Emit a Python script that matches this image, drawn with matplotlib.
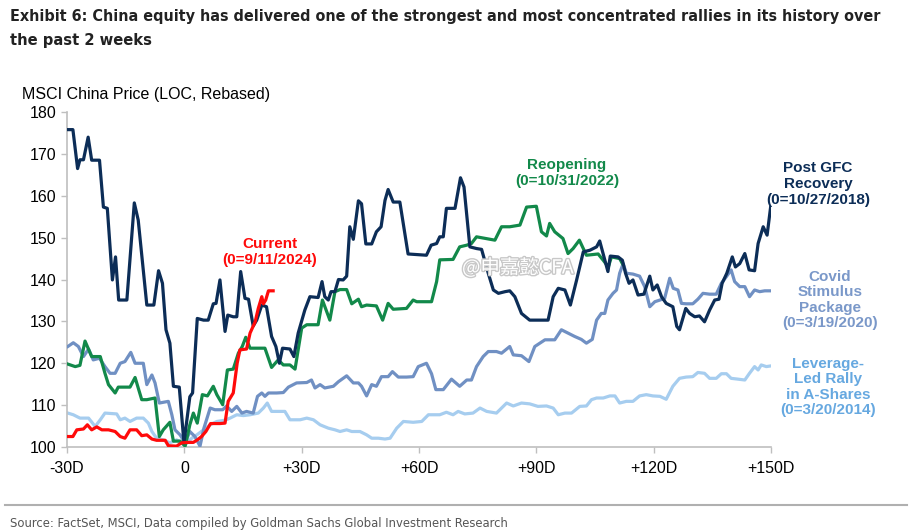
import matplotlib
matplotlib.use("Agg")
import matplotlib.pyplot as plt
import matplotlib.patheffects as pe
from matplotlib import font_manager

# ── DATA (x = trading days from the start date) ──
gfc_days = [-29.8, -28.5, -27.3, -26.7, -25.8, -24.6, -23.7, -21.7, -20.7, -19.7, -18.4, -17.6, -16.8,
            -14.7, -12.8, -11.8, -9.6, -7.8, -6.6, -5.6, -4.7, -3.7, -2.8, -1.3, -0.1, 1.4, 2.1, 3.3,
            4.9, 6.1, 7.4, 8.1, 9.1, 10.4, 11.1, 12.5, 13.4, 14.4, 15.5, 16.4, 17.6, 18.5, 19.8, 21.0,
            22.3, 23.4, 24.3, 25.1, 27.0, 28.0, 29.1, 30.8, 32.1, 34.2, 35.2, 35.9, 36.8, 37.5, 38.5,
            39.4, 40.6, 41.5, 42.3, 43.2, 44.5, 45.3, 46.4, 47.9, 49.1, 50.3, 51.3, 52.1, 53.4, 55.1,
            57.2, 61.9, 63.1, 64.5, 65.3, 66.2, 67.0, 69.2, 70.6, 71.5, 73.0, 74.7, 76.0, 77.7, 79.0,
            80.3, 82.0, 83.2, 84.5, 86.2, 88.3, 90.0, 93.0, 94.3, 95.6, 97.3, 98.7, 100.3, 102.0,
            103.7, 105.4, 106.2, 107.3, 108.3, 108.9, 110.9, 112.0, 112.8, 113.7, 114.7, 116.0,
            117.5, 119.0, 119.8, 120.9, 122.0, 123.2, 124.9, 125.9, 126.6, 128.2, 129.2, 130.5,
            131.7, 133.0, 134.3, 135.6, 136.7, 137.5, 138.7, 140.1, 140.9, 142.0, 143.3, 144.4,
            145.8, 146.7, 148.0, 149.0, 149.9]
gfc_vals = [175.8, 175.8, 166.5, 168.6, 168.6, 174.0, 168.5, 168.5, 157.3, 157.0, 139.9, 145.4, 135.1,
            135.1, 158.3, 154.2, 133.9, 133.9, 142.1, 139.1, 128.0, 124.8, 114.5, 114.3, 101.0, 112.0,
            112.9, 130.7, 130.3, 130.3, 134.2, 134.3, 139.9, 127.6, 131.5, 131.1, 131.1, 141.9, 135.5,
            135.3, 128.9, 130.3, 133.9, 133.5, 126.4, 124.0, 120.0, 123.6, 123.4, 121.6, 127.2, 132.7,
            135.9, 135.7, 139.5, 135.9, 135.1, 137.1, 137.1, 140.0, 139.9, 140.8, 152.6, 149.6, 158.8,
            158.1, 148.5, 148.5, 151.4, 152.6, 158.9, 161.5, 158.5, 158.5, 146.1, 145.8, 148.2, 148.6,
            150.2, 150.2, 157.0, 157.0, 164.3, 162.1, 147.8, 147.4, 147.2, 141.5, 137.5, 136.7, 137.1,
            137.3, 135.9, 131.9, 130.3, 130.3, 130.3, 135.9, 137.9, 137.5, 133.9, 139.9, 146.6, 147.0,
            147.8, 149.2, 145.4, 141.9, 145.6, 145.4, 144.6, 141.5, 139.1, 139.9, 136.3, 136.5, 140.8,
            137.5, 138.7, 135.9, 134.3, 133.5, 128.8, 128.0, 133.1, 131.9, 131.1, 131.3, 129.9, 132.7,
            135.1, 135.3, 139.1, 141.5, 145.4, 143.0, 143.8, 146.2, 142.3, 142.1, 148.6, 152.6, 150.6,
            157.3]

reopen_days = [-29.8, -27.9, -26.7, -25.4, -23.7, -21.5, -20.3, -19.4, -17.7, -16.9, -13.9, -12.6,
               -10.9, -9.6, -7.5, -6.4, -5.4, -3.7, -2.8, -1.1, 0.2, 1.4, 2.3, 3.3, 4.6, 5.9, 7.4, 8.3,
               9.8, 11.0, 12.5, 13.8, 14.8, 15.7, 16.8, 18.9, 20.6, 22.3, 24.0, 25.3, 27.0, 28.3, 30.0,
               31.3, 34.2, 35.3, 37.2, 38.5, 39.8, 41.5, 42.8, 44.5, 45.3, 46.6, 49.1, 50.7, 52.1, 53.4,
               56.8, 58.5, 59.4, 63.2, 64.5, 65.3, 68.7, 70.4, 72.2, 73.4, 74.7, 79.4, 81.1, 83.2, 85.8,
               87.5, 90.0, 91.3, 92.6, 93.4, 94.7, 96.8, 98.1, 99.4, 101.0, 102.8, 105.8, 107.1, 108.4,
               109.2, 111.3, 112.0]
reopen_vals = [119.8, 119.2, 119.5, 125.3, 121.6, 121.6, 117.6, 114.9, 112.9, 114.3, 114.3, 116.6,
               111.3, 111.3, 111.7, 102.5, 104.1, 105.9, 101.4, 101.4, 100.2, 105.3, 108.1, 105.7,
               112.5, 112.2, 114.5, 112.5, 110.1, 118.4, 118.6, 122.4, 124.0, 126.2, 123.6, 123.6,
               123.6, 119.0, 120.8, 119.6, 119.6, 118.6, 128.4, 129.2, 129.2, 135.1, 130.3, 137.1,
               137.6, 137.6, 134.2, 135.3, 133.5, 133.9, 133.7, 130.3, 134.3, 132.9, 133.1, 135.1,
               134.7, 134.7, 139.5, 144.7, 144.8, 147.8, 148.2, 148.6, 150.2, 149.4, 152.6, 152.6,
               153.0, 157.3, 157.5, 151.4, 150.4, 153.4, 151.4, 149.8, 146.2, 147.4, 149.4, 145.8,
               146.1, 144.6, 143.0, 145.4, 145.0, 143.8]

current_days = [-29.8, -28.5, -27.5, -25.8, -24.8, -23.7, -22.4, -21.1, -19.4, -17.7, -16.4, -15.2,
                -13.9, -12.2, -10.9, -9.6, -8.3, -7.1, -4.9, -4.1, -2.0, -0.7, 1.0, 2.3, 3.3, 4.4, 5.5,
                6.7, 9.1, 10.4, 11.2, 12.5, 13.5, 14.2, 15.9, 16.8, 18.1, 18.9, 19.8, 20.2, 20.8, 21.5,
                22.7]
current_vals = [102.5, 102.5, 104.1, 104.3, 105.3, 104.1, 104.8, 104.1, 104.1, 103.7, 102.5, 102.1,
                104.1, 104.1, 102.7, 102.9, 101.9, 101.6, 101.6, 100.3, 100.2, 101.0, 101.1, 101.1,
                101.7, 102.5, 103.7, 105.6, 105.6, 105.7, 110.9, 112.9, 120.0, 123.2, 123.4, 127.2,
                129.9, 133.1, 135.9, 134.2, 135.1, 137.3, 137.3]

covid_days = [-29.8, -28.4, -27.1, -25.8, -24.5, -23.3, -21.7, -20.3, -19.0, -17.7, -16.4, -15.2,
              -13.7, -12.6, -10.5, -9.6, -8.3, -7.5, -6.4, -4.1, -3.2, -2.4, -1.1, 0.2, 1.4, 2.7, 4.0,
              5.0, 6.6, 7.8, 9.8, 10.8, 12.1, 13.4, 14.7, 15.9, 17.6, 18.7, 19.8, 20.6, 21.5, 23.6,
              25.3, 26.6, 28.7, 31.3, 32.5, 33.4, 34.7, 35.9, 38.1, 39.4, 41.5, 43.2, 44.5, 45.3, 46.6,
              47.9, 49.1, 50.4, 52.1, 53.2, 54.7, 56.8, 58.5, 59.8, 61.9, 63.2, 64.3, 66.2, 68.3, 70.4,
              72.2, 73.4, 74.7, 76.4, 77.7, 79.8, 81.1, 83.2, 84.1, 86.2, 88.1, 89.6, 90.9, 92.2, 94.7,
              96.4, 98.1, 99.8, 101.5, 102.8, 104.3, 105.4, 106.6, 107.5, 108.3, 109.6, 110.5, 111.3,
              112.2, 113.0, 114.7, 116.4, 117.7, 119.0, 120.3, 121.6, 122.8, 124.1, 125.0, 126.2,
              127.1, 128.3, 130.0, 131.3, 132.6, 134.3, 136.0, 137.3, 138.6, 139.8, 140.7, 142.0,
              143.3, 144.5, 145.8, 147.1, 148.4, 150.1]
covid_vals = [124.0, 124.9, 124.0, 121.6, 123.4, 120.8, 121.2, 119.2, 117.6, 117.6, 120.0, 120.4,
              122.6, 120.0, 120.0, 114.9, 117.2, 115.3, 110.5, 110.9, 107.7, 104.1, 102.9, 101.0,
              103.7, 102.5, 100.2, 104.5, 109.3, 108.9, 108.9, 109.8, 108.5, 109.7, 108.1, 108.5,
              108.1, 112.1, 112.9, 112.1, 112.9, 112.9, 113.0, 114.3, 115.3, 115.4, 116.0, 114.1,
              114.9, 114.1, 114.5, 115.6, 117.0, 115.3, 115.3, 114.5, 112.2, 114.9, 114.5, 116.8,
              116.8, 118.0, 116.7, 116.7, 116.8, 119.2, 120.0, 117.5, 113.7, 113.7, 116.2, 114.5,
              116.0, 116.0, 119.2, 121.6, 122.8, 122.8, 122.4, 124.0, 122.0, 121.8, 120.4, 124.0,
              124.8, 125.6, 125.6, 128.0, 127.2, 126.4, 125.7, 124.8, 125.7, 130.3, 131.9, 131.9,
              135.1, 136.7, 137.5, 141.5, 143.8, 141.5, 141.3, 140.8, 138.3, 133.5, 134.7, 135.1,
              135.5, 140.3, 137.9, 137.5, 134.3, 134.2, 134.2, 135.3, 136.7, 136.5, 136.5, 139.1,
              140.7, 142.3, 139.5, 138.3, 138.3, 135.9, 137.5, 137.1, 137.3, 137.3]

lev_days = [-29.8, -28.4, -26.7, -24.5, -22.8, -21.5, -20.3, -17.3, -16.4, -15.2, -13.9, -12.2, -10.5,
            -9.2, -8.3, -7.1, -5.4, -3.7, -2.0, 0.2, 1.9, 3.2, 4.9, 6.6, 8.3, 10.4, 11.7, 13.4, 15.1,
            16.8, 18.9, 20.2, 21.2, 22.3, 24.4, 25.7, 27.0, 29.6, 31.3, 33.0, 34.7, 36.8, 38.5, 39.8,
            41.5, 42.8, 44.9, 46.6, 47.9, 49.6, 51.3, 52.6, 54.3, 56.0, 58.5, 60.7, 62.4, 65.3, 67.0,
            68.7, 70.0, 71.7, 73.8, 75.6, 77.3, 79.8, 82.4, 84.1, 86.2, 88.3, 90.4, 92.6, 94.3, 95.6,
            97.3, 99.0, 101.1, 102.8, 104.1, 105.4, 107.1, 108.8, 110.1, 111.3, 113.0, 114.7, 116.4,
            118.1, 119.8, 121.6, 123.2, 124.9, 126.6, 128.3, 130.0, 131.3, 133.0, 134.3, 136.0,
            137.3, 138.6, 139.8, 141.6, 143.3, 144.5, 145.8, 146.7, 147.5, 148.8, 150.2]
lev_vals = [108.1, 107.7, 106.9, 106.9, 104.9, 106.5, 108.1, 107.9, 106.5, 106.9, 106.1, 106.9, 106.9,
            105.7, 103.7, 102.1, 101.7, 101.0, 101.7, 100.6, 102.1, 102.9, 104.1, 105.3, 106.1, 106.4,
            106.9, 107.7, 107.5, 107.7, 108.1, 109.3, 110.5, 108.5, 108.5, 108.5, 106.5, 106.5, 106.9,
            106.5, 105.3, 104.5, 104.1, 103.7, 104.1, 103.7, 103.7, 102.9, 102.1, 102.1, 101.9, 102.1,
            104.5, 106.1, 105.9, 106.1, 107.7, 107.7, 108.3, 107.7, 108.5, 107.9, 108.1, 109.3, 108.5,
            108.1, 110.5, 109.8, 110.5, 110.3, 109.7, 109.8, 109.3, 107.7, 108.1, 108.1, 109.7, 109.8,
            111.3, 111.7, 111.7, 112.2, 112.2, 110.5, 110.9, 110.9, 112.2, 112.5, 112.2, 112.1, 111.4,
            114.5, 116.4, 116.7, 116.8, 117.8, 117.6, 116.4, 116.4, 117.5, 117.5, 116.4, 116.2, 116.0,
            117.6, 119.2, 118.4, 119.6, 119.2, 119.4]

x_ticks = [-30, 0, 30, 60, 90, 120, 150]
x_labels = ["-30D", "0", "+30D", "+60D", "+90D", "+120D", "+150D"]
y_ticks = [100, 110, 120, 130, 140, 150, 160, 170, 180]

NAVY = "#0c2d57"
GREEN = "#12894a"
RED = "#ff0a0a"
COVID = "#7090c3"
LEV = "#a6cdef"

plt.rcParams["font.family"] = ["Liberation Sans", "DejaVu Sans"]


def pick_narrow(bold):
    # look for any condensed / narrow face among the installed fonts
    for f in font_manager.fontManager.ttflist:
        tag = (f.name + " " + f.fname).lower()
        if ("narrow" in tag or "condensed" in tag) and (("bold" in tag) == bold):
            if "italic" in tag or "oblique" in tag:
                continue
            return font_manager.FontProperties(fname=f.fname)
    return None


NARROW_B = pick_narrow(True)
NARROW_R = pick_narrow(False)

fig = plt.figure(figsize=(9.17, 5.31), dpi=100)
ax = fig.add_axes([0.0731, 0.1582, 0.7677, 0.6308])

lw = 2.3
ax.plot(lev_days, lev_vals, color=LEV, lw=lw, zorder=2, solid_joinstyle="round")
ax.plot(covid_days, covid_vals, color=COVID, lw=lw, zorder=3, solid_joinstyle="round")
ax.plot(reopen_days, reopen_vals, color=GREEN, lw=lw, zorder=4, solid_joinstyle="round")
ax.plot(gfc_days, gfc_vals, color=NAVY, lw=lw, zorder=5, solid_joinstyle="round")
ax.plot(current_days, current_vals, color=RED, lw=lw, zorder=6, solid_joinstyle="round")

ax.set_xlim(-30, 150)
ax.set_ylim(100, 180)
ax.set_xticks(x_ticks)
ax.set_xticklabels(x_labels)
ax.set_yticks(y_ticks)
ax.tick_params(axis="both", labelsize=11.5, color="#bfbfbf", length=4, width=1, direction="out",
               labelcolor="black")
ax.tick_params(axis="x", pad=6)
for s in ["top", "right"]:
    ax.spines[s].set_visible(False)
for s in ["left", "bottom"]:
    ax.spines[s].set_color("#bfbfbf")
    ax.spines[s].set_linewidth(1.2)

# series labels
lbl = dict(ha="center", va="center", fontsize=11, fontweight="bold", linespacing=1.15,
           transform=fig.transFigure)
fig.text(270 / 917, 1 - 252 / 531, "Current\n(0=9/11/2024)", color=RED, **lbl)
fig.text(567 / 917, 1 - 173 / 531, "Reopening\n(0=10/31/2022)", color=GREEN, **lbl)
fig.text(818 / 917, 1 - 184 / 531, "Post GFC\nRecovery\n(0=10/27/2018)", color=NAVY, **lbl)
fig.text(830 / 917, 1 - 300 / 531, "Covid\nStimulus\nPackage\n(0=3/19/2020)", color="#7a98c9", **lbl)
fig.text(828 / 917, 1 - 387 / 531, "Leverage-\nLed Rally\nin A-Shares\n(0=3/20/2014)",
         color="#66a8e0", **lbl)

# watermark
fig.text(462 / 917, 1 - 268 / 531, "@申嘉懿CFA", fontsize=14, color="white",
         family=["Noto Sans CJK SC", "DejaVu Sans"], ha="left", va="center", zorder=10,
         path_effects=[pe.withStroke(linewidth=2, foreground="#c8c8c8")])

# title, axis caption, source
def narrow_text(x, y, s, size, target_w, bold, **kw):
    fp = NARROW_B if bold else NARROW_R
    if fp is not None:
        fp = fp.copy()
        fp.set_size(size)
        t = fig.text(x, y, s, fontproperties=fp, **kw)
    else:
        t = fig.text(x, y, s, fontsize=size, fontweight="bold" if bold else "normal", **kw)
    # shrink to the width the reference uses
    w = t.get_window_extent(fig.canvas.get_renderer()).width
    if w > target_w:
        t.set_fontsize(size * target_w / w)
    return t


narrow_text(10 / 917, 1 - 16 / 531,
            "Exhibit 6: China equity has delivered one of the strongest and most concentrated rallies in its history over",
            14, 872, True, color="#222222", ha="left", va="center")
narrow_text(10 / 917, 1 - 40 / 531, "the past 2 weeks", 14, 142, True,
            color="#222222", ha="left", va="center")
fig.text(22 / 917, 1 - 95 / 531, "MSCI China Price (LOC, Rebased)", fontsize=11.5, color="black",
         ha="left", va="center")
fig.add_artist(plt.Line2D([5 / 917, 907 / 917], [1 - 505 / 531, 1 - 505 / 531],
                          color="#b0b0b0", lw=1.5, transform=fig.transFigure))
narrow_text(10 / 917, 1 - 524 / 531,
            "Source: FactSet, MSCI, Data compiled by Goldman Sachs Global Investment Research",
            11, 495, False, color="#555555", ha="left", va="center")

fig.savefig("out.png", dpi=100, facecolor="white")
